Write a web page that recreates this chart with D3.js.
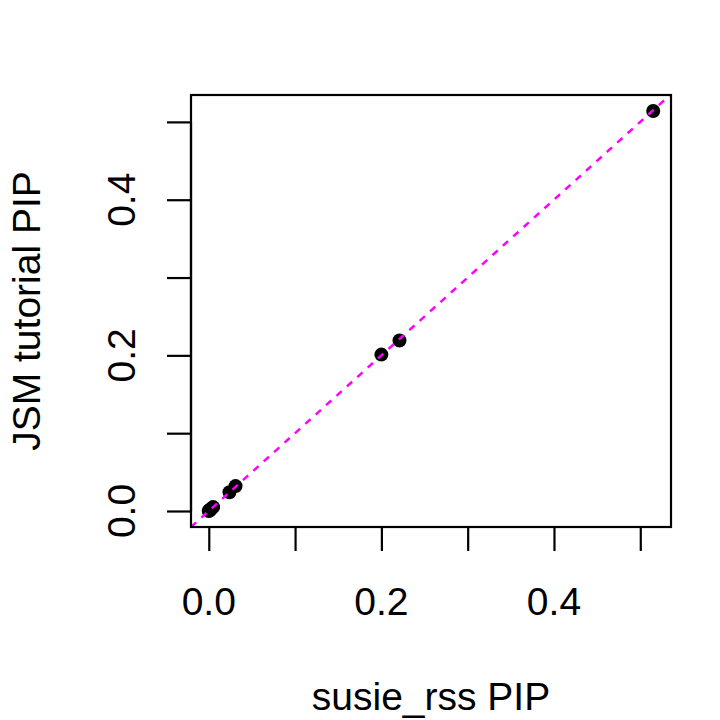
<!DOCTYPE html>
<html>
<head>
<meta charset="utf-8">
<script src="https://cdn.jsdelivr.net/npm/d3@7"></script>
<style>
  body { margin: 0; background: white; }
  text { font-family: "Liberation Sans", Arial, sans-serif; fill: black; }
</style>
</head>
<body>
<div id="chart"></div>
<script>
// PIP values
const susiePip = [0, 0.0005, 0.001, 0.002, 0.003, 0.005, 0.024, 0.031, 0.2, 0.221, 0.515];
const jsmPip   = [0, 0.0005, 0.001, 0.002, 0.003, 0.005, 0.024, 0.032, 0.201, 0.219, 0.514];
const tickValues = [0, 0.1, 0.2, 0.3, 0.4, 0.5];
const labelValues = [0, 0.2, 0.4];

const width = 720, height = 720;
const box = { left: 191, right: 671, top: 95, bottom: 527 };
const fontSize = "39px";

// R-style 4% padding on each side
function pad(ext) {
  const d = (ext[1] - ext[0]) * 0.04;
  return [ext[0] - d, ext[1] + d];
}

const x = d3.scaleLinear().domain(pad(d3.extent(susiePip))).range([box.left, box.right]);
const y = d3.scaleLinear().domain(pad(d3.extent(jsmPip))).range([box.bottom, box.top]);

const svg = d3.select("#chart").append("svg")
  .attr("width", width)
  .attr("height", height);

svg.append("defs").append("clipPath").attr("id", "plotclip")
  .append("rect")
  .attr("x", box.left).attr("y", box.top)
  .attr("width", box.right - box.left).attr("height", box.bottom - box.top);

// Points
const points = susiePip.map((v, i) => [v, jsmPip[i]]);
svg.append("g")
  .selectAll("circle")
  .data(points)
  .enter().append("circle")
  .attr("cx", d => x(d[0]))
  .attr("cy", d => y(d[1]))
  .attr("r", 7)
  .attr("fill", "black");

// y = x reference line
const dom = x.domain();
svg.append("line")
  .attr("clip-path", "url(#plotclip)")
  .attr("x1", x(dom[0] - 1)).attr("y1", y(dom[0] - 1))
  .attr("x2", x(dom[1] + 1)).attr("y2", y(dom[1] + 1))
  .attr("stroke", "#ff00ff")
  .attr("stroke-width", 2.5)
  .attr("stroke-dasharray", "7,7");

// Frame
svg.append("rect")
  .attr("x", box.left).attr("y", box.top)
  .attr("width", box.right - box.left).attr("height", box.bottom - box.top)
  .attr("fill", "none")
  .attr("stroke", "black")
  .attr("stroke-width", 2.2);

// Axes
const xAxis = svg.append("g")
  .attr("transform", `translate(0,${box.bottom})`)
  .call(d3.axisBottom(x).tickValues(tickValues).tickSize(24).tickFormat(""));
xAxis.select(".domain")
  .attr("d", `M${x(tickValues[0])},0H${x(tickValues[tickValues.length - 1])}`);
xAxis.selectAll("path, line").attr("stroke", "black").attr("stroke-width", 2.2);

const yAxis = svg.append("g")
  .attr("transform", `translate(${box.left},0)`)
  .call(d3.axisLeft(y).tickValues(tickValues).tickSize(24).tickFormat(""));
yAxis.select(".domain")
  .attr("d", `M0,${y(tickValues[0])}V${y(tickValues[tickValues.length - 1])}`);
yAxis.selectAll("path, line").attr("stroke", "black").attr("stroke-width", 2.2);

// Tick labels
svg.append("g")
  .selectAll("text")
  .data(labelValues)
  .enter().append("text")
  .attr("x", d => x(d))
  .attr("y", 615)
  .attr("text-anchor", "middle")
  .style("font-size", fontSize)
  .text(d => d3.format(".1f")(d));

svg.append("g")
  .selectAll("text")
  .data(labelValues)
  .enter().append("text")
  .attr("transform", d => `translate(135,${y(d)}) rotate(-90)`)
  .attr("text-anchor", "middle")
  .style("font-size", fontSize)
  .text(d => d3.format(".1f")(d));

// Axis titles
svg.append("text")
  .attr("x", (box.left + box.right) / 2)
  .attr("y", 710)
  .attr("text-anchor", "middle")
  .style("font-size", fontSize)
  .text("susie_rss PIP");

svg.append("text")
  .attr("transform", `translate(40,${(box.top + box.bottom) / 2}) rotate(-90)`)
  .attr("text-anchor", "middle")
  .style("font-size", fontSize)
  .text("JSM tutorial PIP");
</script>
</body>
</html>
